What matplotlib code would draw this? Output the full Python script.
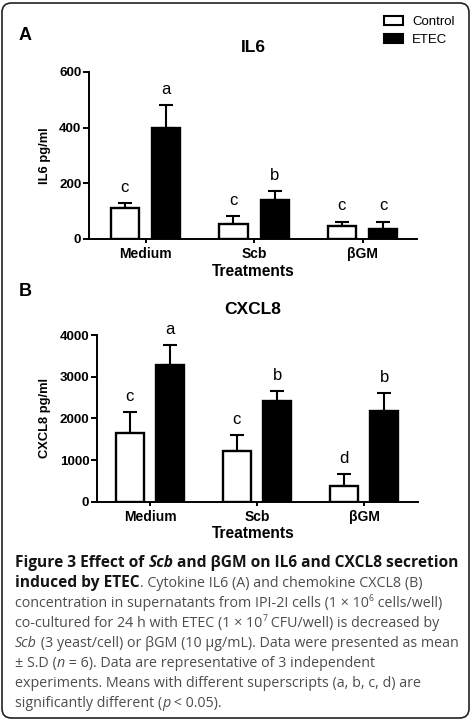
import matplotlib
matplotlib.use('Agg')
import matplotlib.pyplot as plt
import numpy as np
from matplotlib.patches import FancyBboxPatch, Patch

# ---- data ----
treatments = ['Medium', 'Scb', '\u03b2GM']
groups = ['Control', 'ETEC']

il6_control = [110, 54, 47]
il6_control_sd = [18, 28, 15]
il6_etec = [400, 140, 35]
il6_etec_sd = [81, 32, 27]
il6_letters_control = ['c', 'c', 'c']
il6_letters_etec = ['a', 'b', 'c']

cxcl8_control = [1640, 1216, 376]
cxcl8_control_sd = [504, 376, 280]
cxcl8_etec = [3288, 2416, 2184]
cxcl8_etec_sd = [464, 232, 424]
cxcl8_letters_control = ['c', 'c', 'd']
cxcl8_letters_etec = ['a', 'b', 'b']

W, H = 473, 723
fig = plt.figure(figsize=(W / 100, H / 100), dpi=100)
renderer = fig.canvas.get_renderer()

def fx(px):
    return px / W

def fy(py):
    return 1 - py / H

# outer rounded frame
frame = FancyBboxPatch((fx(2), fy(718)), fx(467), (715) / H,
                       boxstyle='round,pad=0,rounding_size=0.02',
                       transform=fig.transFigure, fill=False,
                       edgecolor='#222222', linewidth=1.2,
                       mutation_aspect=W / H)
fig.patches.append(frame)

tick_font = dict(family='Liberation Sans', weight='bold')


def panel(rect, xlim, ymax, yticks, ctrl, ctrl_sd, etec, etec_sd,
          let_c, let_e):
    ax = fig.add_axes(rect)
    x = np.arange(len(treatments))
    w = 0.26
    off = 0.19
    ax.bar(x - off, ctrl, w, color='white', edgecolor='black', linewidth=1.7,
           zorder=2)
    ax.bar(x + off, etec, w, color='black', edgecolor='black', linewidth=1.7,
           zorder=2)
    ax.errorbar(x - off, ctrl, yerr=[np.zeros(3), ctrl_sd], fmt='none',
                ecolor='black', elinewidth=1.5, capsize=5, capthick=1.5,
                zorder=1)
    ax.errorbar(x + off, etec, yerr=[np.zeros(3), etec_sd], fmt='none',
                ecolor='black', elinewidth=1.5, capsize=5, capthick=1.5,
                zorder=1)
    for i in range(3):
        ax.text(x[i] - off, ctrl[i] + ctrl_sd[i] + 0.095 * ymax, let_c[i],
                ha='center', va='center', fontsize=12,
                family='Liberation Sans')
        ax.text(x[i] + off, etec[i] + etec_sd[i] + 0.095 * ymax, let_e[i],
                ha='center', va='center', fontsize=12,
                family='Liberation Sans')
    ax.set_xlim(*xlim)
    ax.set_ylim(0, ymax)
    ax.set_yticks(yticks)
    ax.set_xticks(x)
    ax.set_xticklabels(treatments, fontsize=10, **tick_font)
    ax.set_yticklabels([str(v) for v in yticks], fontsize=9.6, **tick_font)
    for s in ['top', 'right']:
        ax.spines[s].set_visible(False)
    for s in ['left', 'bottom']:
        ax.spines[s].set_linewidth(1.4)
    ax.tick_params(axis='y', length=4.5, width=1.4, pad=1)
    ax.tick_params(axis='x', length=3, width=1.4, pad=3)
    ax.patch.set_alpha(0)
    return ax


panel([fx(89), fy(239), fx(417 - 89), 167 / H], (-0.521, 2.502), 600,
      [0, 200, 400, 600], il6_control, il6_control_sd, il6_etec, il6_etec_sd,
      il6_letters_control, il6_letters_etec)
panel([fx(97), fy(501.7), fx(418 - 97), 166.7 / H], (-0.495, 2.505), 4000,
      [0, 1000, 2000, 3000, 4000], cxcl8_control, cxcl8_control_sd,
      cxcl8_etec, cxcl8_etec_sd, cxcl8_letters_control, cxcl8_letters_etec)

# panel labels and titles
fig.text(fx(25), fy(35), 'A', fontsize=13, ha='center', va='center', **tick_font)
fig.text(fx(25), fy(292), 'B', fontsize=13, ha='center', va='center', **tick_font)
fig.text(fx(253), fy(47), 'IL6', fontsize=12.5, ha='center', va='center', **tick_font)
fig.text(fx(253), fy(309), 'CXCL8', fontsize=12.5, ha='center', va='center', **tick_font)
fig.text(fx(253), fy(271), 'Treatments', fontsize=11.2, ha='center', va='center', **tick_font)
fig.text(fx(253), fy(533), 'Treatments', fontsize=11.2, ha='center', va='center', **tick_font)
fig.text(fx(45), fy(156), 'IL6 pg/ml', fontsize=9.3, rotation=90, ha='center', va='center', **tick_font)
fig.text(fx(45), fy(418), 'CXCL8 pg/ml', fontsize=9.3, rotation=90, ha='center', va='center', **tick_font)

handles = [Patch(facecolor='white', edgecolor='black', linewidth=1.5),
           Patch(facecolor='black', edgecolor='black', linewidth=1.5)]
fig.legend(handles, groups, loc='upper left', bbox_to_anchor=(fx(384), fy(16)),
           frameon=False, prop=dict(family='Liberation Sans', size=9.5),
           handlelength=1.45, handleheight=0.7, handletextpad=0.7,
           labelspacing=0.45, borderpad=0, borderaxespad=0)

# ---- caption with mixed styles ----
cap_font = 'Open Sans'
bold_size = 11.2
norm_size = 10.3
dark = '#151515'
grey = '#4d4d4d'
styles = {
    'b': dict(weight='bold', style='normal', color=dark, size=bold_size),
    'bi': dict(weight='bold', style='italic', color=dark, size=bold_size),
    'n': dict(weight='normal', style='normal', color=grey, size=norm_size),
    'i': dict(weight='normal', style='italic', color=grey, size=norm_size),
    'sup': dict(weight='normal', style='normal', color=grey,
                size=norm_size * 0.6),
}

caption = [
    [('Figure 3 Effect of ', 'b'), ('Scb', 'bi'),
     (' and \u03b2GM on IL6 and CXCL8 secretion', 'b')],
    [('induced by ETEC', 'b'),
     ('. Cytokine IL6 (A) and chemokine CXCL8 (B)', 'n')],
    [('concentration in supernatants from IPI-2I cells (1 \u00d7 10', 'n'),
     ('6', 'sup'), (' cells/well)', 'n')],
    [('co-cultured for 24 h with ETEC (1 \u00d7 10', 'n'), ('7', 'sup'),
     (' CFU/well) is decreased by', 'n')],
    [('Scb', 'i'),
     (' (3 yeast/cell) or \u03b2GM (10 \u03bcg/mL). Data were presented as mean', 'n')],
    [('\u00b1 S.D (', 'n'), ('n', 'i'),
     (' = 6). Data are representative of 3 independent', 'n')],
    [('experiments. Means with different superscripts (a, b, c, d) are', 'n')],
    [('significantly different (', 'n'), ('p', 'i'), (' < 0.05).', 'n')],
]


def run_width(s, st):
    t = fig.text(0, 0, '|' + s + '|', family=cap_font, fontsize=st['size'],
                 weight=st['weight'], style=st['style'])
    w1 = t.get_window_extent(renderer).width
    t.set_text('||')
    w2 = t.get_window_extent(renderer).width
    t.remove()
    return w1 - w2


base_y = 566.7
for k, line in enumerate(caption):
    xp = 15
    yp = base_y + 20 * k
    for s, key in line:
        st = styles[key]
        dy = -5.5 if key == 'sup' else 0
        fig.text(fx(xp), fy(yp + dy), s, family=cap_font, fontsize=st['size'],
                 weight=st['weight'], style=st['style'], color=st['color'],
                 ha='left', va='baseline')
        xp += run_width(s, st)

fig.savefig('out.png', dpi=100)
